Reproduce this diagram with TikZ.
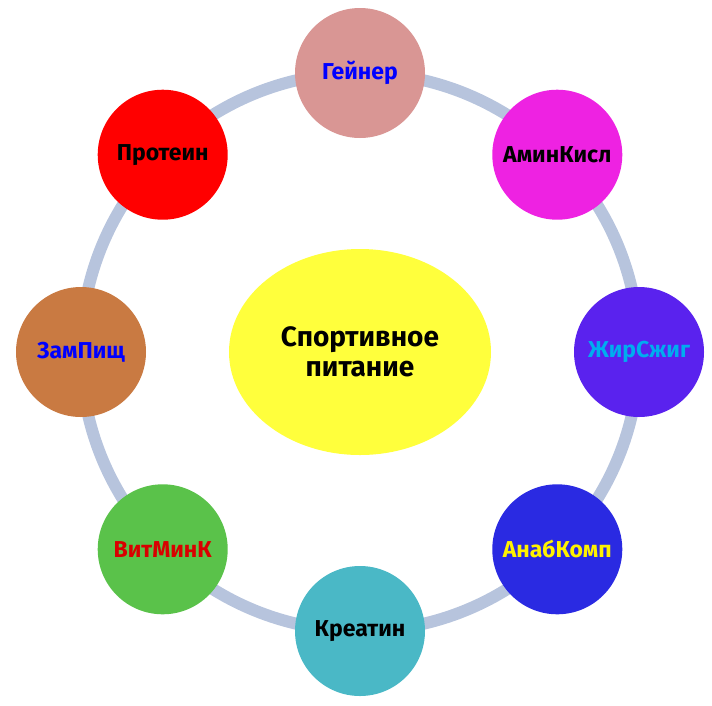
\documentclass[tikz,border=0pt]{standalone}
\usepackage{fontspec}
\setmainfont{Fira Sans}
\usetikzlibrary{shapes.geometric}
\definecolor{ringcol}{HTML}{B7C4DD}
\definecolor{cGej}{HTML}{D99694}
\definecolor{cAmin}{HTML}{EE22E2}
\definecolor{cZhir}{HTML}{5A22EE}
\definecolor{cAnab}{HTML}{2A2AE2}
\definecolor{cKre}{HTML}{4AB8C6}
\definecolor{cVit}{HTML}{5AC24A}
\definecolor{cZam}{HTML}{C97A42}
\definecolor{cProt}{HTML}{FF0000}
\definecolor{cCent}{HTML}{FFFF3C}
\begin{document}
\begin{tikzpicture}[x=1pt,y=-1pt,
  every node/.style={font=\bfseries\fontsize{23}{26}\selectfont},
  item/.style={circle,minimum size=130pt,inner sep=0pt}]
  \useasboundingbox (0,0) rectangle (712,705);
  %--- common coords
  \def\cx{360}\def\cy{352}\def\rr{279}

  % ring behind the items
  \draw[ringcol,line width=12pt] (\cx,\cy) circle (\rr);

  %==================== center ====================
  \node[ellipse,fill=cCent,minimum width=262pt,minimum height=206pt,
        align=center,font=\bfseries\fontsize{28}{30}\selectfont]
    (sport) at (\cx,\cy) {Спортивное\\питание};

  %==================== items ====================
  \foreach \name/\ang/\fc/\tc/\txt in {
      gej/90/cGej/blue/Гейнер,
      amin/45/cAmin/black/АминКисл,
      zhir/0/cZhir/cyan/ЖирСжиг,
      anab/-45/cAnab/yellow/АнабКомп,
      kre/-90/cKre/black/Креатин,
      vit/-135/cVit/red!85!black/ВитМинК,
      zam/180/cZam/blue/ЗамПищ,
      prot/135/cProt/black/Протеин} {
    \node[item,fill=\fc,text=\tc] (\name)
      at ({\cx+\rr*cos(\ang)},{\cy-\rr*sin(\ang)}) {\txt};
  }
\end{tikzpicture}
\end{document}
